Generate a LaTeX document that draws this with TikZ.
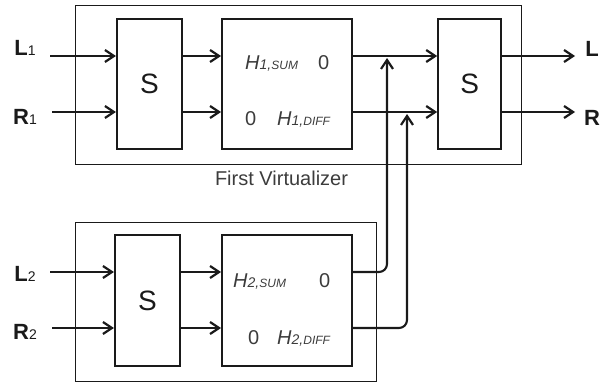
\documentclass[tikz,border=0pt]{standalone}
\usepackage{fontspec}
\setmainfont{Liberation Sans}
\usepackage{tikz}
\usetikzlibrary{positioning, arrows.meta}
\definecolor{ink}{HTML}{1A1A1A}
\definecolor{inkgray}{HTML}{3C3C3C}
\newcommand{\hsig}[2]{\textit{H}{\fontsize{14}{14}\selectfont\itshape #1,}{\fontsize{12}{12}\selectfont\itshape #2}}
\newcommand{\chan}[2]{\textbf{#1}{\fontsize{14}{14}\selectfont #2}}
\tikzset{
  vbox/.style    = {rectangle, draw=ink, line width=1pt, inner sep=0pt},
  sbox/.style    = {rectangle, draw=ink, line width=2.1pt, minimum width=65pt,
                    minimum height=130pt, inner sep=0pt, text=ink,
                    font=\fontsize{28}{28}\selectfont},
  hbox/.style    = {rectangle, draw=ink, line width=2.1pt, minimum width=130pt,
                    minimum height=130pt, inner sep=0pt},
  htxt/.style    = {inner sep=0pt, text=inkgray, font=\fontsize{20}{20}\selectfont},
  lbl/.style     = {inner sep=0pt, text=ink, font=\fontsize{22}{22}\selectfont},
  capt/.style    = {inner sep=0pt, text=inkgray, font=\fontsize{20}{20}\selectfont},
  arr/.style     = {-{Straight Barb[length=9pt,width=12pt,line width=2.2pt]},
                    line width=2.1pt, draw=ink},
  feed/.style    = {arr, rounded corners=8pt},
}

\begin{document}
\begin{tikzpicture}[x=1pt, y=-1pt]
  \useasboundingbox (0,0) rectangle (611,383);

  % ----- TOP: first virtualizer -----
  \node[vbox, minimum width=446pt, minimum height=159pt] (vt) at (298,84.5) {};
  \node[capt] (vtlab) at (281.5,178) {First Virtualizer};

  \node[sbox] (s1) at (149.5,84) {S};
  \node[hbox, right=38pt of s1] (h1) {};
  \node[sbox, minimum width=63pt, right=84pt of h1] (s3) {S};

  \node[htxt, anchor=base west] (h1s) at (245,69) {\hsig{1}{SUM}};
  \node[htxt, anchor=base west] (h1z) at (318,69) {0};
  \node[htxt, anchor=base west] (h1y) at (245,125) {0};
  \node[htxt, anchor=base west] (h1d) at (277,125) {\hsig{1}{DIFF}};

  \node[lbl] (l1) at (25,48) {\chan{L}{1}};
  \node[lbl] (r1) at (25,117) {\chan{R}{1}};
  \node[lbl] (lo) at (592,49) {\textbf{L}};
  \node[lbl] (ro) at (592,118) {\textbf{R}};

  \coordinate (in1) at (50,56);
  \coordinate (in2) at (52,112);
  \coordinate (out1) at (575,56);
  \coordinate (out2) at (575,112);
  \coordinate (up1) at (387,58);
  \coordinate (up2) at (407,114);

  \draw[arr] (in1) -- (in1 -| s1.west);
  \draw[arr] (in2) -- (in2 -| s1.west);
  \draw[arr] (s1.east |- in1) -- (h1.west |- in1);
  \draw[arr] (s1.east |- in2) -- (h1.west |- in2);
  \draw[arr] (h1.east |- in1) -- (s3.west |- in1);
  \draw[arr] (h1.east |- in2) -- (s3.west |- in2);
  \draw[arr] (s3.east |- out1) -- (out1);
  \draw[arr] (s3.east |- out2) -- (out2);

  % ----- BOTTOM: second virtualizer -----
  \node[vbox, minimum width=301pt, minimum height=159pt] (vb) at (225.5,301.5) {};

  \node[sbox, minimum height=131pt] (s2) at (147.5,300.5) {S};
  \node[hbox, minimum height=131pt, right=40pt of s2] (h2) {};

  \node[htxt, anchor=base west] (h2s) at (233,287) {\hsig{2}{SUM}};
  \node[htxt, anchor=base west] (h2z) at (319,287) {0};
  \node[htxt, anchor=base west] (h2y) at (248,344) {0};
  \node[htxt, anchor=base west] (h2d) at (277,344) {\hsig{2}{DIFF}};

  \node[lbl] (l2) at (25,274) {\chan{L}{2}};
  \node[lbl] (r2) at (25,332) {\chan{R}{2}};

  \coordinate (in3) at (50,272);
  \coordinate (in4) at (52,328);

  \draw[arr] (in3) -- (in3 -| s2.west);
  \draw[arr] (in4) -- (in4 -| s2.west);
  \draw[arr] (s2.east |- in3) -- (h2.west |- in3);
  \draw[arr] (s2.east |- in4) -- (h2.west |- in4);

  % feed the second virtualizer into the first
  \draw[feed] (h2.east |- in3) -- (up1 |- in3) -- (up1);
  \draw[feed] (h2.east |- in4) -- (up2 |- in4) -- (up2);

\end{tikzpicture}
\end{document}
